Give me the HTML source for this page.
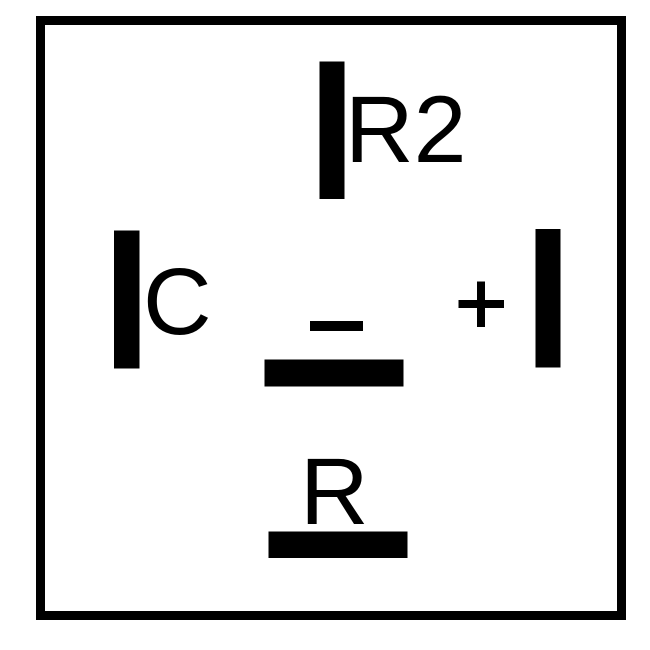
<!DOCTYPE html>
<html><head><style>
body{margin:0;background:#fff;}
svg{display:block}
text{font-family:"Liberation Sans",Arial,sans-serif;font-size:95px;fill:#000}
</style></head><body>
<svg width="650" height="650" viewBox="0 0 650 650">
<rect x="0" y="0" width="650" height="650" fill="#fff"/>
<rect x="40.5" y="20.5" width="581" height="595" fill="none" stroke="#000" stroke-width="9"/>
<rect x="319.5" y="61.5" width="25" height="137.5" fill="#000"/>
<rect x="114" y="230.5" width="25.5" height="138" fill="#000"/>
<rect x="535.5" y="229" width="25" height="138.5" fill="#000"/>
<rect x="264.5" y="359.5" width="139" height="27" fill="#000"/>
<rect x="268.5" y="531.5" width="139" height="26.5" fill="#000"/>
<rect x="310" y="321" width="53" height="10" fill="#000"/>
<rect x="458.5" y="300" width="45.5" height="8" fill="#000"/>
<rect x="477" y="281.5" width="8" height="45.5" fill="#000"/>
<text x="345" y="162">R2</text>
<text x="143" y="334">C</text>
<text x="300" y="524">R</text>
</svg>
</body></html>
